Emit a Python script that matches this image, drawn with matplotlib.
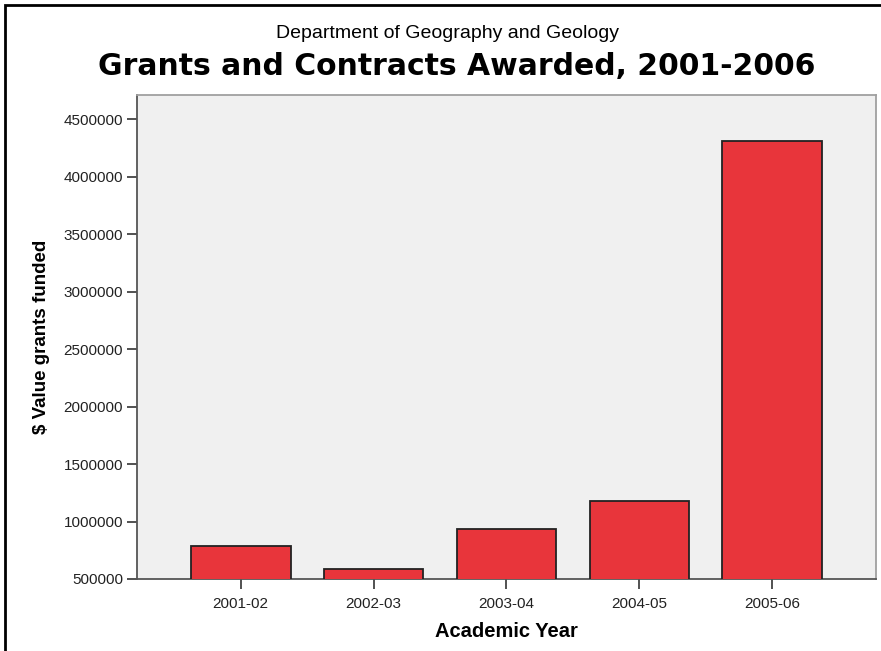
import numpy as np
import matplotlib.pyplot as plt
from matplotlib.patches import Rectangle

# 数据
years = ['2001-02', '2002-03', '2003-04', '2004-05', '2005-06']
grants = [790000, 590000, 935000, 1181000, 4309000]
yticks = [500000, 1000000, 1500000, 2000000, 2500000, 3000000, 3500000, 4000000, 4500000]

fig = plt.figure(figsize=(8.81, 6.51), dpi=100)
ax = fig.add_axes([0.1555, 0.1106, 0.8388, 0.7434])

x = np.arange(len(years))
ax.bar(x, grants, width=0.75, bottom=0, color='#e8353b', edgecolor='#222222', linewidth=1.3, zorder=3)

ax.set_facecolor('#f0f0f0')
ax.set_xlim(-0.78, 4.78)
ax.set_ylim(500000, 4710000)
ax.set_xticks(x)
ax.set_xticklabels(years, fontsize=11, fontfamily='Liberation Sans')
ax.set_yticks(yticks)
ax.set_yticklabels([str(v) for v in yticks], fontsize=11, fontfamily='Liberation Sans')
ax.tick_params(length=7, width=1.2, color='#333333', labelcolor='#222222', pad=3)
ax.tick_params(axis='x', pad=6)

for s in ['left', 'bottom']:
    ax.spines[s].set_color('#555555')
    ax.spines[s].set_linewidth(1.3)
for s in ['top', 'right']:
    ax.spines[s].set_color('#a0a0a0')
    ax.spines[s].set_linewidth(1.3)

ax.set_xlabel('Academic Year', fontsize=14.5, fontweight='bold', fontfamily='Liberation Sans', labelpad=8)
ax.set_ylabel('$ Value grants funded', fontsize=13.5, fontweight='bold', fontfamily='Liberation Sans', labelpad=10)

fig.text(0.508, 0.9416, 'Department of Geography and Geology', ha='center', va='baseline',
         fontsize=14, fontfamily='Liberation Sans')
fig.text(0.518, 0.885, 'Grants and Contracts Awarded, 2001-2006', ha='center', va='baseline',
         fontsize=21.5, fontweight='bold', fontfamily='DejaVu Sans')

# 外框
fig.patches.append(Rectangle((5 / 881, -0.02), 1.0, 1 - 5 / 651 + 0.02, transform=fig.transFigure,
                             fill=False, edgecolor='black', linewidth=2))

plt.savefig('out.png', dpi=100)
